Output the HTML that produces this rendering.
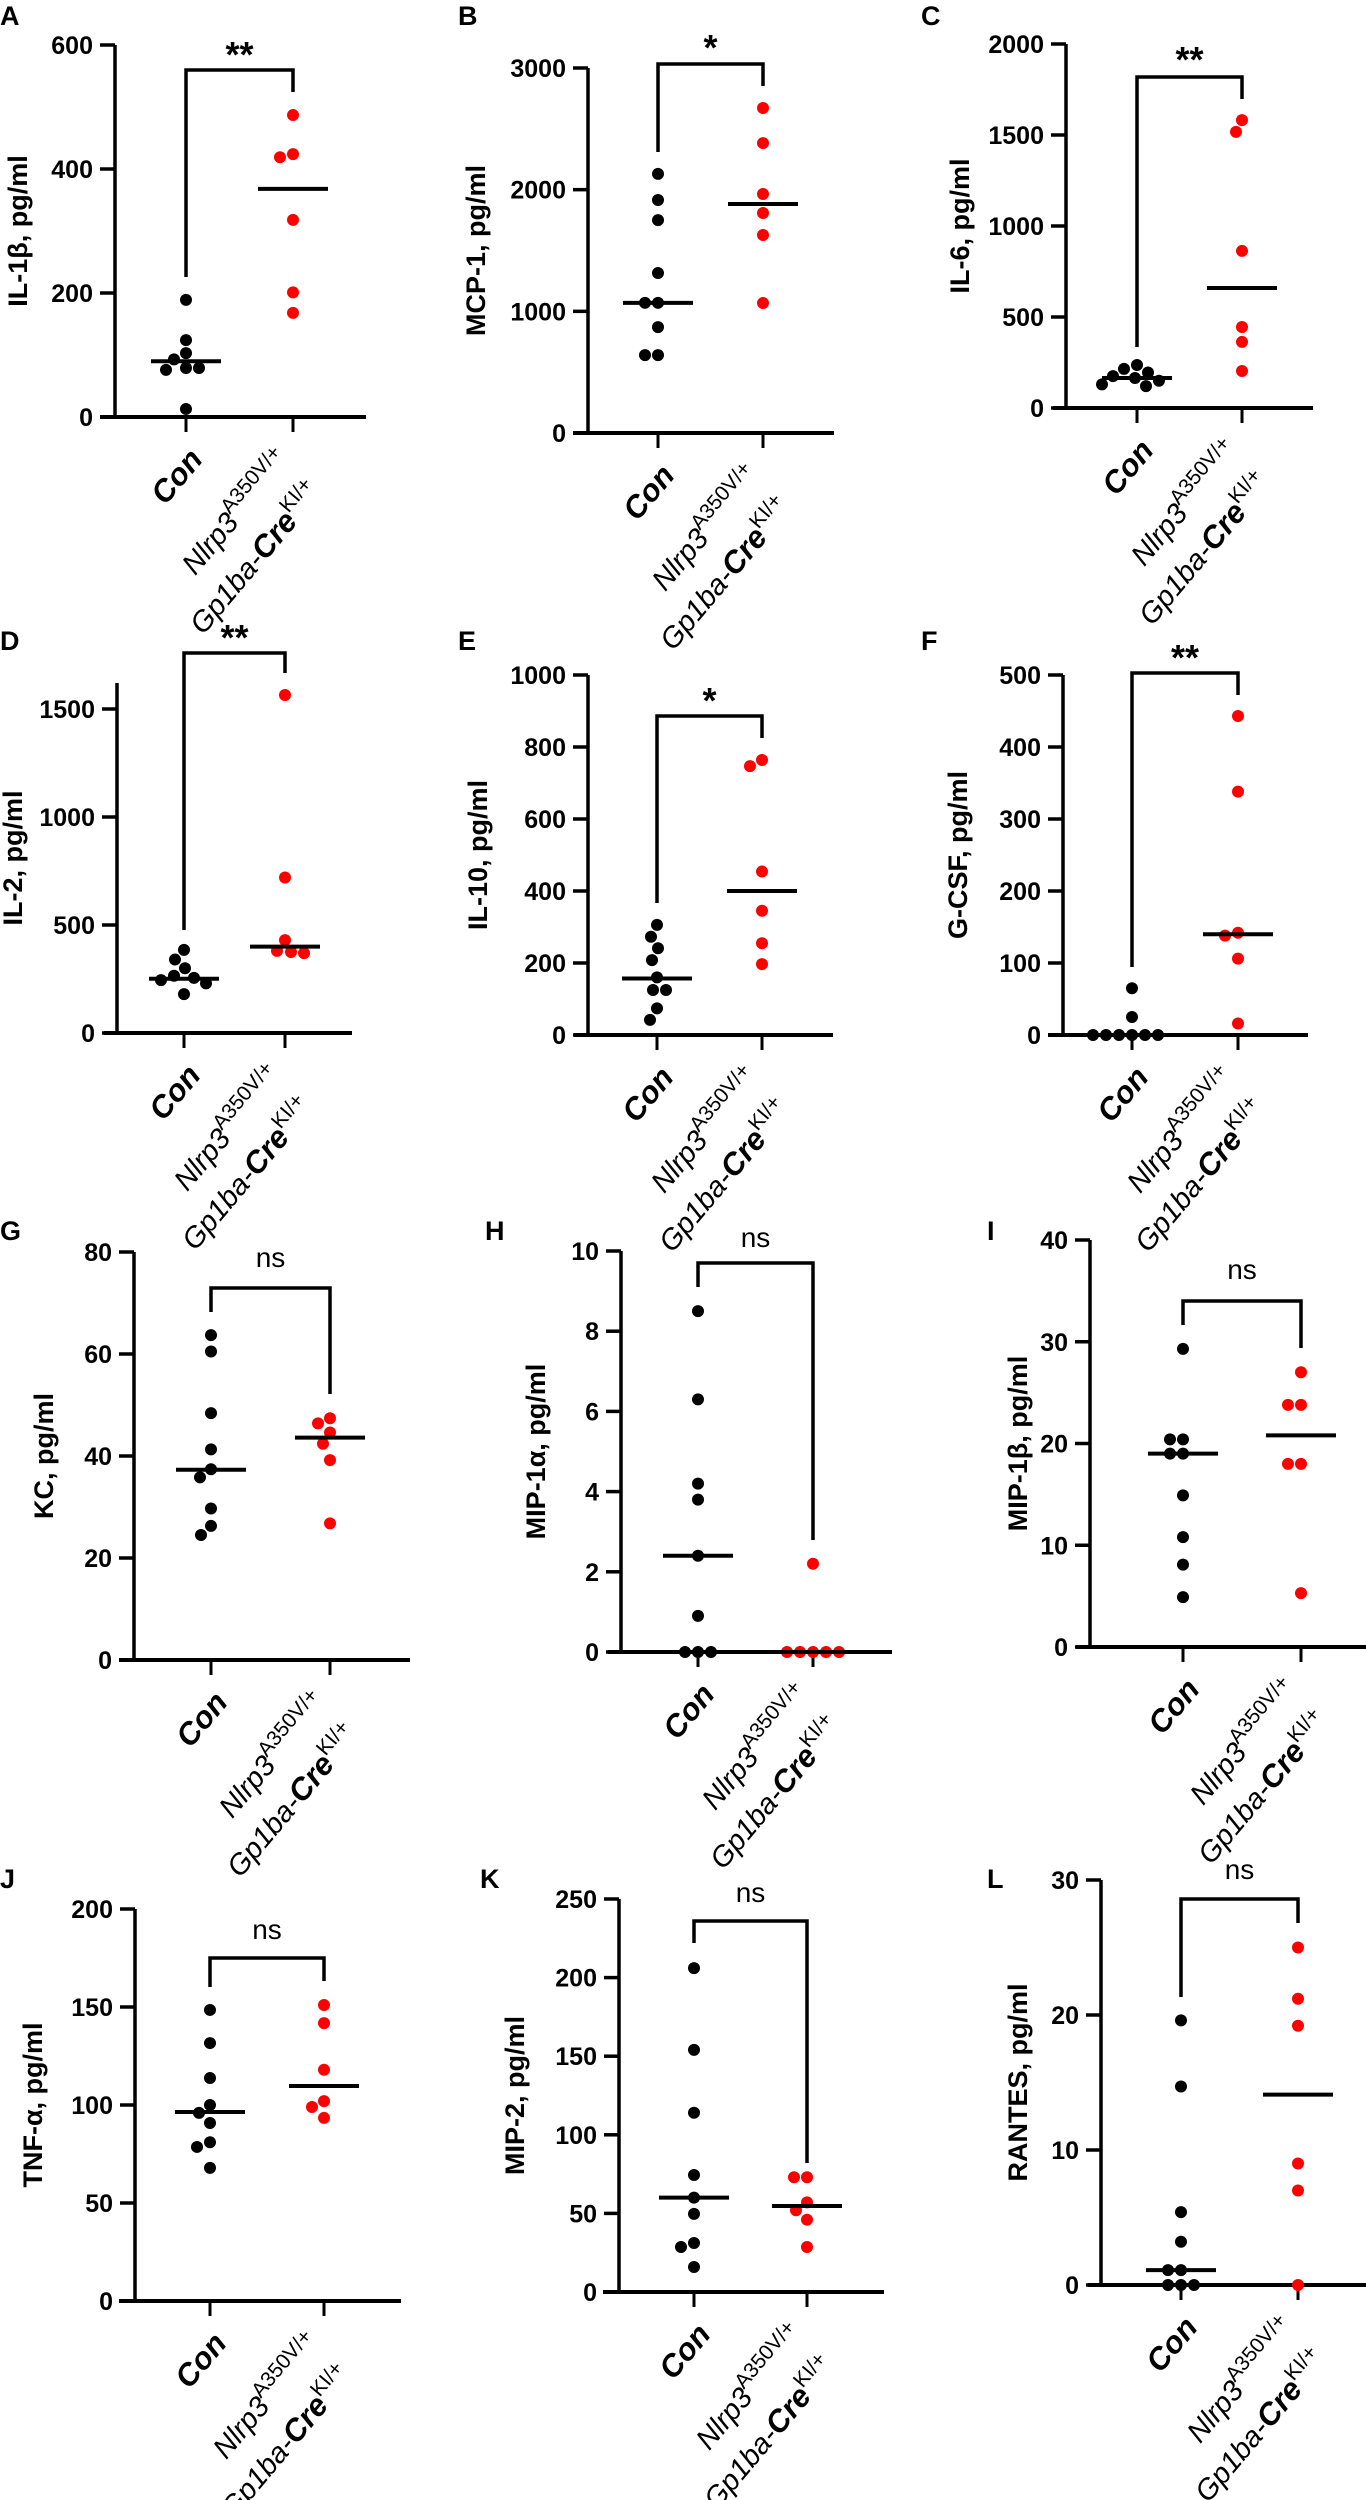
<!DOCTYPE html>
<html><head><meta charset="utf-8">
<style>
html,body{margin:0;padding:0;background:#fff;}
svg{display:block;font-family:"Liberation Sans",Arial,sans-serif;}
</style></head>
<body>
<svg id="fig" width="1366" height="2500" viewBox="0 0 1366 2500" xmlns="http://www.w3.org/2000/svg"></svg>
<script>
// ---- data (pg/ml values) ----
const groups = ["Con", "Nlrp3A350V/+ Gp1ba-CreKI/+"];
const conA = [189,124,103,93,79,79,76,13];        const kiA = [487,424,419,318,201,168];
const lineA = [90,368];                           const ticksA = [0,200,400,600];
const conB = [2130,1915,1750,1315,1070,1070,870,640,640]; const kiB = [2671,2383,1964,1808,1627,1068];
const lineB = [1070,1882];                        const ticksB = [0,1000,2000,3000];
const conC = [236,215,195,175,165,150,130,120];   const kiC = [1582,1517,863,445,363,203];
const lineC = [165,659];                          const ticksC = [0,500,1000,1500,2000];
const conD = [385,340,300,265,255,245,230,180];   const kiD = [1565,720,430,380,375,370];
const lineD = [251,400];                          const ticksD = [0,500,1000,1500];
const conE = [306,273,241,208,160,125,125,74,42]; const kiE = [764,747,454,345,255,197];
const lineE = [157,400];                          const ticksE = [0,200,400,600,800,1000];
const conF = [65,25,0,0,0,0,0,0];                 const kiF = [443,338,142,138,106,16];
const lineF = [0,140];                            const ticksF = [0,100,200,300,400,500];
const conG = [63.7,60.5,48.4,41.3,37.4,35.8,29.7,26.3,24.5]; const kiG = [47.4,46.4,44.6,42.4,39.2,26.8];
const lineG = [37.3,43.6];                        const ticksG = [0,20,40,60,80];
const conH = [8.5,6.3,4.2,3.8,2.4,0.9,0,0,0];     const kiH = [2.2,0,0,0,0,0];
const lineH = [2.4,0];                            const ticksH = [0,2,4,6,8,10];
const conI = [29.3,20.4,20.4,19.0,19.0,14.9,10.8,8.1,4.9]; const kiI = [27,23.8,23.8,18,18,5.3];
const lineI = [19.0,20.8];                        const ticksI = [0,10,20,30,40];
const conJ = [148.5,131.6,113.8,100,96,90.8,81,78.6,67.9]; const kiJ = [151,141.8,118,102,99,93.4];
const lineJ = [96.4,109.7];                       const ticksJ = [0,50,100,150,200];
const conK = [206,154,114,74.4,60,49.7,31.2,28.6,15.9]; const kiK = [73,73,57,52,46,28.6];
const lineK = [60,54.7];                          const ticksK = [0,50,100,150,200,250];
const conL = [19.6,14.7,5.4,3.2,1.1,1.1,0,0,0];   const kiL = [25,21.2,19.2,9,7,0];
const lineL = [1.1,14.1];                         const ticksL = [0,10,20,30];
const sigLabels = ["**","*","**","**","*","**","ns","ns","ns","ns","ns","ns"];

// ---- layout (geometry only) ----
const panels = [
 {id:"a",L:"A",lx:0,ly:15,ax:115,y0:417,top:45,c:[186,293],xa:[100,366],br:[70,277,92],sy:47,title:"IL-1β, pg/ml",tx:18,con:conA,ki:kiA,ln:lineA,tk:ticksA},
 {id:"b",L:"B",lx:458,ly:15,ax:588,y0:433,top:68,c:[658,763],xa:[573,834],br:[64,152,86],sy:40,title:"MCP-1, pg/ml",tx:476,con:conB,ki:kiB,ln:lineB,tk:ticksB},
 {id:"c",L:"C",lx:921,ly:15,ax:1066,y0:408,top:44,c:[1137,1242],xa:[1053,1313],br:[77,347,99],sy:52,title:"IL-6, pg/ml",tx:960,con:conC,ki:kiC,ln:lineC,tk:ticksC},
 {id:"d",L:"D",lx:0,ly:640,ax:117,y0:1033,top:709,atop:683,c:[184,285],xa:[104,352],br:[653,930,673],sy:630,title:"IL-2, pg/ml",tx:13,con:conD,ki:kiD,ln:lineD,tk:ticksD},
 {id:"e",L:"E",lx:458,ly:640,ax:588,y0:1035,top:675,c:[657,762],xa:[574,833],br:[716,903,738],sy:693,title:"IL-10, pg/ml",tx:478,con:conE,ki:kiE,ln:lineE,tk:ticksE},
 {id:"f",L:"F",lx:921,ly:640,ax:1063,y0:1035,top:675,c:[1132,1238],xa:[1048,1308],br:[673,967,695],sy:650,title:"G-CSF, pg/ml",tx:958,con:conF,ki:kiF,ln:lineF,tk:ticksF},
 {id:"g",L:"G",lx:0,ly:1230,ax:134,y0:1660,top:1252,c:[211,330],xa:[119,410],br:[1288,1312,1394],sy:1258,title:"KC, pg/ml",tx:44,con:conG,ki:kiG,ln:lineG,tk:ticksG},
 {id:"h",L:"H",lx:485,ly:1230,ax:621,y0:1652,top:1251,c:[698,813],xa:[608,892],br:[1263,1287,1540],sy:1238,title:"MIP-1α, pg/ml",tx:536,con:conH,ki:kiH,ln:lineH,tk:ticksH},
 {id:"i",L:"I",lx:987,ly:1230,ax:1090,y0:1647,top:1240,c:[1183,1301],xa:[1076,1366],br:[1301,1325,1348],sy:1270,title:"MIP-1β, pg/ml",tx:1018,con:conI,ki:kiI,ln:lineI,tk:ticksI},
 {id:"j",L:"J",lx:0,ly:1878,ax:135,y0:2301,top:1909,c:[210,324],xa:[119,401],br:[1958,1987,1981],sy:1930,title:"TNF-α, pg/ml",tx:33,con:conJ,ki:kiJ,ln:lineJ,tk:ticksJ},
 {id:"k",L:"K",lx:480,ly:1878,ax:619,y0:2292,top:1899,c:[694,807],xa:[603,884],br:[1921,1943,2163],sy:1893,title:"MIP-2, pg/ml",tx:515,con:conK,ki:kiK,ln:lineK,tk:ticksK},
 {id:"l",L:"L",lx:987,ly:1878,ax:1101,y0:2285,top:1880,c:[1181,1298],xa:[1088,1366],br:[1899,1997,1923],sy:1870,title:"RANTES, pg/ml",tx:1018,con:conL,ki:kiL,ln:lineL,tk:ticksL}
];

const NS = "http://www.w3.org/2000/svg";
const svg = document.getElementById("fig");
function mk(tag, attrs, parent){
  const e = document.createElementNS(NS, tag);
  for (const k in attrs) e.setAttribute(k, attrs[k]);
  (parent||svg).appendChild(e);
  return e;
}
const R = 6;
function swarm(vals, yFn){
  const placed = []; const out = [];
  const order = vals.map((v,i)=>i).sort((a,b)=>vals[b]-vals[a]);
  order.forEach(i=>{
    const y = yFn(vals[i]);
    let off = 0;
    for (let s=0; s<200; s++){
      const cand = (s%2===0?1:-1)*Math.ceil(s/2);
      if (placed.every(p=>Math.hypot(p[0]-cand,p[1]-y) >= 2*R+1)) { off = cand; break; }
    }
    placed.push([off,y]); out[i] = [off,y];
  });
  return out;
}

panels.forEach((p, pi)=>{
  const g = mk("g", {});
  
  
  const maxV = p.tk[p.tk.length-1];
  const yS = v => p.y0 - v*(p.y0 - p.top)/maxV;

  const letter = mk("text", {x:p.lx, y:p.ly+10, "font-size":27, "font-weight":"bold"}, g);
  letter.textContent = p.L;
  
  

  const yax = mk("line", {x1:p.ax, y1:p.y0, x2:p.ax, y2:(p.atop||p.top), stroke:"#000","stroke-width":3.5}, g);
  
  
  p.tk.forEach(t=>{
    const y = yS(t);
    const tl = mk("line", {x1:p.ax-15, y1:y, x2:p.ax, y2:y, stroke:"#000","stroke-width":3.5}, g);
    
    
    const tt = mk("text", {x:p.ax-22, y:y+9, "font-size":25, "font-weight":"bold", "text-anchor":"end"}, g);
    tt.textContent = t;
    
    
  });
  const cy = (p.y0 + (p.atop||p.top))/2;
  const ti = mk("text", {x:p.tx, y:cy, "font-size":27, "font-weight":"bold", "text-anchor":"middle",
    "dominant-baseline":"central", transform:`rotate(-90 ${p.tx} ${cy})`}, g);
  ti.textContent = p.title;
  
  

  const xax = mk("line", {x1:p.xa[0], y1:p.y0, x2:p.xa[1], y2:p.y0, stroke:"#000","stroke-width":4}, g);
  
  
  p.c.forEach((cx,ci)=>{
    const xt = mk("line", {x1:cx, y1:p.y0, x2:cx, y2:p.y0+15, stroke:"#000","stroke-width":3}, g);
    
    
  });
  const c0 = p.c[0], c1 = p.c[1];
  let ax1 = c0+18, ay1 = p.y0+43;
  const con = mk("text", {x:ax1, y:ay1, "font-size":31, "font-weight":"bold", "font-style":"italic", "text-anchor":"end", transform:`rotate(-50 ${ax1} ${ay1})`}, g);
  con.textContent = groups[0];
  
  
  let bx = c1-1, by = p.y0+44;
  const l1 = mk("text", {x:bx, y:by, "font-size":29, "text-anchor":"end", transform:`rotate(-50 ${bx} ${by})`}, g);
  l1.innerHTML = '<tspan font-style="italic">Nlrp3</tspan><tspan font-size="21" dy="-13">A350V/+</tspan>';
  
  
  let cx2 = c1+30, cy2 = p.y0+76;
  const l2 = mk("text", {x:cx2, y:cy2, "font-size":29, "text-anchor":"end", transform:`rotate(-50 ${cx2} ${cy2})`}, g);
  l2.innerHTML = '<tspan font-style="italic">Gp1ba-</tspan><tspan font-style="italic" font-weight="bold" font-size="31">Cre</tspan><tspan font-size="21" dy="-13">KI/+</tspan>';
  
  

  const br = mk("path", {d:`M${c0} ${p.br[1]} L${c0} ${p.br[0]} L${c1} ${p.br[0]} L${c1} ${p.br[2]}`, fill:"none", stroke:"#000","stroke-width":3.5}, g);
  
  
  const sig = sigLabels[pi];
  const st = mk("text", {x:(c0+c1)/2, y:p.sy + (sig==="ns"?9:20), "font-size":sig==="ns"?28:36, "font-weight":sig==="ns"?"normal":"bold", "text-anchor":"middle"}, g);
  st.textContent = sig;
  
  

  [p.con, p.ki].forEach((vals, gi)=>{
    const pos = swarm(vals, yS);
    pos.forEach(([off,y])=>{
      const d = mk("circle", {cx:p.c[gi]+off, cy:y, r:R, fill: gi===0?"#000":"#ff0000"}, g);
      
      
    });
    const ly = yS(p.ln[gi]);
    const ml = mk("line", {x1:p.c[gi]-35, y1:ly, x2:p.c[gi]+35, y2:ly, stroke:"#000","stroke-width":4}, g);
    
    
  });
});
</script>
</body></html>
